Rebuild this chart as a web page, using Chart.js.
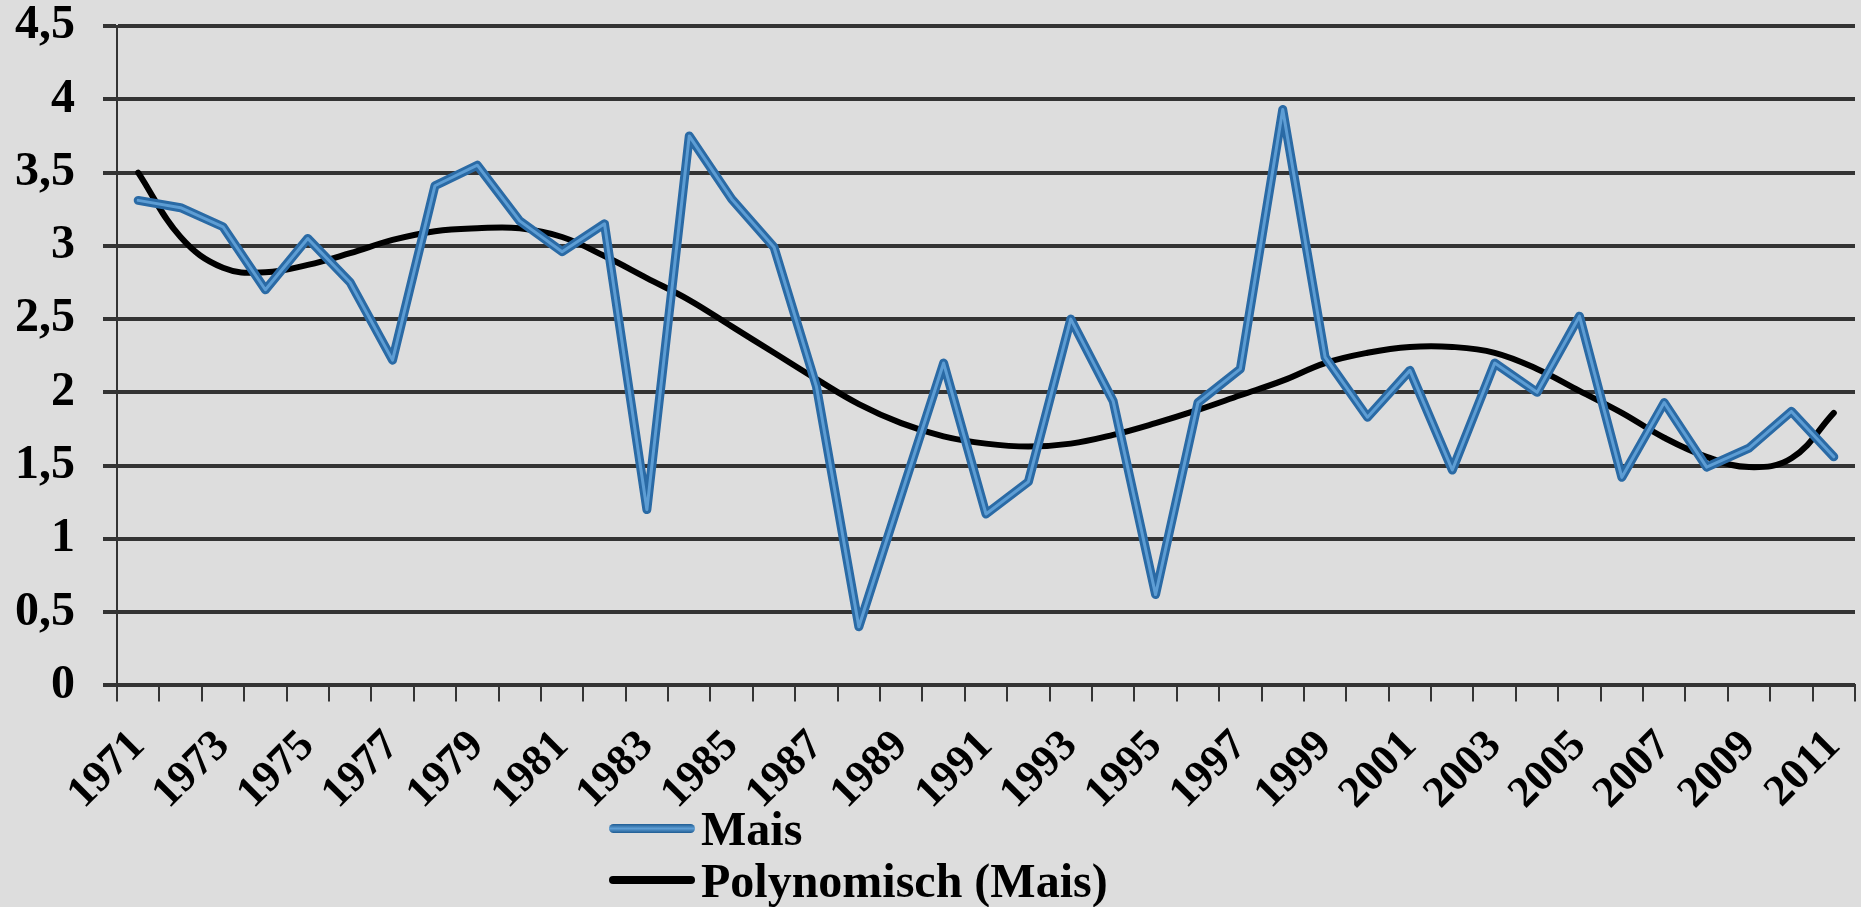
<!DOCTYPE html>
<html>
<head>
<meta charset="utf-8">
<script src="https://cdn.jsdelivr.net/npm/chart.js@4.4.1/dist/chart.umd.min.js"></script>
<style>
  html, body { margin: 0; padding: 0; background: #dddddd; }
  #wrap { position: relative; width: 1861px; height: 907px; background: #dddddd; }
  #legend { position: absolute; left: 609px; top: 802px;
            font: bold 48px "Liberation Serif", "Times New Roman", serif; color: #000; }
  .item { display: flex; align-items: center; height: 52px; white-space: nowrap; }
  .swatch { width: 86px; border-radius: 5px; margin-right: 6px; }
</style>
</head>
<body>
<div id="wrap">
  <canvas id="chart" width="1861" height="907"></canvas>
  <div id="legend"></div>
</div>
<script>
// Years on the category axis
const years = [
  '1971','1972','1973','1974','1975','1976','1977','1978','1979','1980',
  '1981','1982','1983','1984','1985','1986','1987','1988','1989','1990',
  '1991','1992','1993','1994','1995','1996','1997','1998','1999','2000',
  '2001','2002','2003','2004','2005','2006','2007','2008','2009','2010','2011'
];

// Maize values per year
const maisValues = [
  3.31, 3.26, 3.13, 2.70, 3.05, 2.75, 2.22, 3.41, 3.55, 3.17,
  2.96, 3.15, 1.20, 3.75, 3.32, 2.99, 2.04, 0.40, 1.30, 2.20,
  1.17, 1.39, 2.50, 1.94, 0.62, 1.93, 2.16, 3.93, 2.24, 1.83,
  2.15, 1.47, 2.20, 2.00, 2.52, 1.42, 1.93, 1.49, 1.62, 1.87, 1.56
];

// Polynomial trend of the maize series, one value per year
const trendValues = [
  3.50, 3.06, 2.85, 2.82, 2.87, 2.95, 3.04, 3.10, 3.12, 3.12,
  3.06, 2.93, 2.78, 2.63, 2.45, 2.27, 2.09, 1.92, 1.79, 1.70,
  1.65, 1.63, 1.65, 1.71, 1.79, 1.88, 1.98, 2.08, 2.20, 2.27,
  2.31, 2.31, 2.27, 2.16, 2.01, 1.86, 1.69, 1.56, 1.49, 1.55, 1.86
];

// Value axis labels (German decimal comma)
const yTickLabels = ['0', '0,5', '1', '1,5', '2', '2,5', '3', '3,5', '4', '4,5'];

const seriesNames = ['Mais', 'Polynomisch (Mais)'];

const serif = '"Liberation Serif", "Times New Roman", serif';
const gridColor = '#333333';

// Keep the plot area edges fixed: no extra room reserved for edge labels
function noEdgePadding(scale) {
  scale.paddingTop = 0;
  scale.paddingBottom = 0;
  scale.paddingLeft = 0;
  scale.paddingRight = 0;
}

const ctx = document.getElementById('chart').getContext('2d');
const chart = new Chart(ctx, {
  type: 'line',
  data: {
    labels: years,
    datasets: [
      {
        label: seriesNames[0] + ' highlight',
        data: maisValues,
        borderColor: '#5d9dd4',
        borderWidth: 3,
        pointRadius: 0,
        tension: 0,
        borderJoinStyle: 'round',
        borderCapStyle: 'round',
        order: 0,
        inLegend: false
      },
      {
        label: seriesNames[0],
        data: maisValues,
        borderColor: '#2a6aa5',
        borderWidth: 9,
        pointRadius: 0,
        tension: 0,
        borderJoinStyle: 'round',
        borderCapStyle: 'round',
        order: 1,
        inLegend: true,
        swatch: 'linear-gradient(#1f5c93, #5d9dd4 50%, #1f5c93)',
        swatchHeight: 9
      },
      {
        label: seriesNames[1],
        data: trendValues,
        borderColor: '#000000',
        borderWidth: 6,
        pointRadius: 0,
        tension: 0.4,
        borderCapStyle: 'round',
        order: 2,
        inLegend: true,
        swatch: '#000000',
        swatchHeight: 8
      }
    ]
  },
  options: {
    responsive: false,
    animation: false,
    devicePixelRatio: 1,
    layout: { padding: { left: 15, right: 6, top: 26, bottom: 68 } },
    plugins: {
      legend: { display: false },
      tooltip: { enabled: false }
    },
    scales: {
      x: {
        type: 'category',
        offset: true,
        afterFit: noEdgePadding,
        grid: {
          display: true,
          offset: true,
          drawOnChartArea: false,
          drawTicks: true,
          tickLength: 16,
          color: gridColor,
          lineWidth: 2
        },
        border: { display: true, color: gridColor, width: 3 },
        ticks: {
          autoSkip: false,
          minRotation: 45,
          maxRotation: 45,
          padding: 19,
          color: '#000',
          font: { family: serif, size: 44, weight: 'bold' },
          callback: (value, index) => (index % 2 === 0 ? years[index] : '')
        }
      },
      y: {
        min: 0,
        max: 4.5,
        afterFit: (scale) => {
          noEdgePadding(scale);
          scale.width = 102;
        },
        grid: {
          color: gridColor,
          lineWidth: 4,
          drawTicks: true,
          tickLength: 14
        },
        border: { display: true, color: gridColor, width: 2 },
        ticks: {
          stepSize: 0.5,
          padding: 28,
          color: '#000',
          font: { family: serif, size: 48, weight: 'bold' },
          callback: (value, index) => yTickLabels[index]
        }
      }
    }
  }
});

// Legend stacked in two rows under the axis
const legendBox = document.getElementById('legend');
chart.data.datasets.filter(ds => ds.inLegend).forEach(ds => {
  const row = document.createElement('div');
  row.className = 'item';
  const sw = document.createElement('div');
  sw.className = 'swatch';
  sw.style.background = ds.swatch;
  sw.style.height = ds.swatchHeight + 'px';
  const txt = document.createElement('span');
  txt.textContent = ds.label;
  row.appendChild(sw);
  row.appendChild(txt);
  legendBox.appendChild(row);
});
</script>
</body>
</html>
